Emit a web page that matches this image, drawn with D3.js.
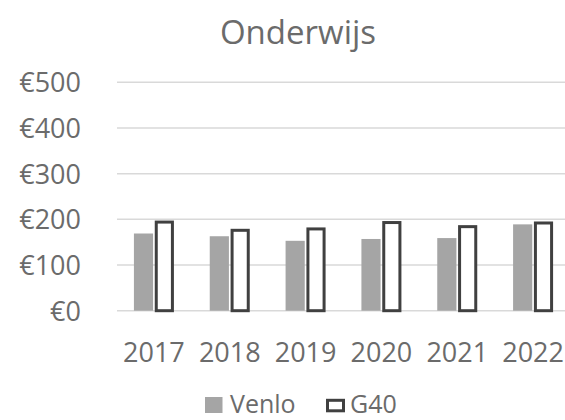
<!DOCTYPE html>
<html>
<head>
<meta charset="utf-8">
<script src="https://cdn.jsdelivr.net/npm/d3@7"></script>
<style>
  html, body { margin: 0; padding: 0; background: #fff; }
  svg { display: block; font-family: "Open Sans", sans-serif; }
</style>
</head>
<body>
<svg id="chart" width="565" height="420"></svg>
<script>
// Onderwijs: kosten per inwoner, Venlo vs G40
const years = ["2017", "2018", "2019", "2020", "2021", "2022"];
const venlo = [169, 163, 153, 157, 159, 189];
const g40 = [194, 176, 179, 193, 184, 192];
const seriesNames = ["Venlo", "G40"];
const yTicks = [0, 100, 200, 300, 400, 500];

const svg = d3.select("#chart");
const textColor = "#6b6b6b";
const gridColor = "#d9d9d9";
const venloColor = "#a5a5a5";
const g40Stroke = "#404040";

const x0 = d3.scaleBand().domain(years).range([116, 571]);
const half = 20;
const x1 = d3.scaleBand().domain(seriesNames)
  .range([x0.bandwidth() / 2 - half, x0.bandwidth() / 2 + half])
  .paddingInner(0.08);
const y = d3.scaleLinear().domain([0, 500]).range([310.7, 82.3]);

// Title
svg.append("text")
  .attr("x", 298).attr("y", 44)
  .attr("text-anchor", "middle")
  .attr("font-size", 33)
  .attr("fill", textColor)
  .text("Onderwijs");

// Gridlines
svg.append("g").selectAll("line").data(yTicks).join("line")
  .attr("x1", 117).attr("x2", 572)
  .attr("y1", d => y(d)).attr("y2", d => y(d))
  .attr("stroke", gridColor).attr("stroke-width", 1.5);

// Y axis labels
const yAxis = d3.axisLeft(y).tickValues(yTicks).tickSize(0).tickPadding(0)
  .tickFormat(d => "€" + d);
svg.append("g")
  .attr("transform", "translate(81,0)")
  .call(yAxis)
  .call(g => g.select(".domain").remove())
  .call(g => g.selectAll("text")
    .attr("font-size", 27)
    .attr("font-family", "Open Sans, sans-serif")
    .attr("fill", textColor)
    .attr("dy", "0.35em"));

// X axis labels
const xAxis = d3.axisBottom(x0).tickSize(0).tickPadding(0);
svg.append("g")
  .attr("transform", "translate(0,362)")
  .call(xAxis)
  .call(g => g.select(".domain").remove())
  .call(g => g.selectAll("text")
    .attr("font-size", 27)
    .attr("font-family", "Open Sans, sans-serif")
    .attr("fill", textColor)
    .attr("dy", 0)
    .attr("y", 0));

// Bars
const groups = svg.append("g").selectAll("g").data(years).join("g")
  .attr("transform", d => `translate(${x0(d)},0)`);

groups.append("rect")
  .attr("x", x1("Venlo"))
  .attr("width", x1.bandwidth())
  .attr("y", (d, i) => y(venlo[i]))
  .attr("height", (d, i) => y(0) - y(venlo[i]))
  .attr("fill", venloColor);

groups.append("rect")
  .attr("x", x1("G40") + 1.5)
  .attr("width", x1.bandwidth() - 3)
  .attr("y", (d, i) => y(g40[i]))
  .attr("height", (d, i) => y(0) - y(g40[i]))
  .attr("fill", "#fff")
  .attr("stroke", g40Stroke)
  .attr("stroke-width", 3);

// Legend
const legend = svg.append("g");
legend.append("rect")
  .attr("x", 205).attr("y", 397).attr("width", 17.5).attr("height", 16)
  .attr("fill", venloColor);
legend.append("text")
  .attr("x", 230).attr("y", 412.5)
  .attr("font-size", 25).attr("fill", textColor)
  .text(seriesNames[0]);
legend.append("rect")
  .attr("x", 327.5).attr("y", 400.3).attr("width", 16).attr("height", 10.5)
  .attr("fill", "#fff").attr("stroke", g40Stroke).attr("stroke-width", 3);
legend.append("text")
  .attr("x", 350).attr("y", 412.5)
  .attr("font-size", 25).attr("fill", textColor)
  .text(seriesNames[1]);
</script>
</body>
</html>
